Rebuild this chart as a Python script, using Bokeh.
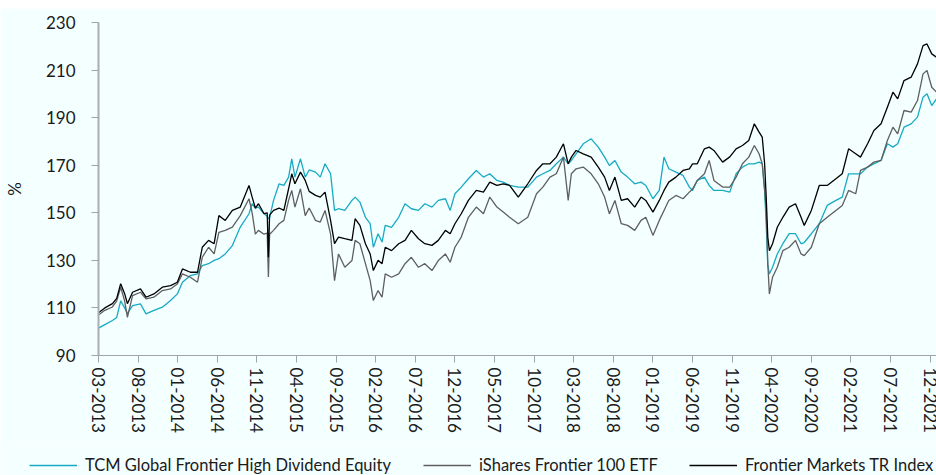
from bokeh.plotting import figure
from bokeh.layouts import column, row
from bokeh.models import Legend, LegendItem, FixedTicker, Range1d, Spacer
from bokeh.embed import file_html
from bokeh.resources import INLINE

# x tick labels (every 5 months starting 03-2013)
tick_labels = ["03-2013", "08-2013", "01-2014", "06-2014", "11-2014", "04-2015",
               "09-2015", "02-2016", "07-2016", "12-2016", "05-2017", "10-2017",
               "03-2018", "08-2018", "01-2019", "06-2019", "11-2019", "04-2020",
               "09-2020", "02-2021", "07-2021", "12-2021"]

# months elapsed since March 2013
months = [0.0, 0.8, 1.76, 2.3, 2.8, 3.3, 3.65, 4.3, 5.3, 6.0, 7.0, 8.06, 9.1, 9.95,
          10.6, 11.6, 12.5, 13.1, 13.9, 14.6, 15.2, 16.0, 16.9, 17.9, 19.0, 19.4,
          19.8, 20.2, 20.9, 21.3, 21.45, 21.6, 22.1, 22.8, 23.4, 24.0, 24.4, 24.8,
          25.5, 26.1, 26.6, 27.4, 28.0, 28.6, 29.3, 29.8, 30.3, 31.1, 32.0, 32.4,
          33.0, 33.7, 34.3, 34.7, 35.3, 35.8, 36.2, 37.0, 37.9, 38.7, 39.5, 40.4,
          41.2, 42.1, 42.9, 43.8, 44.4, 45.0, 45.8, 46.7, 47.7, 48.6, 49.4, 50.3,
          51.1, 51.9, 53.0, 54.2, 55.3, 56.1, 57.0, 57.8, 58.7, 59.3, 59.7, 60.3,
          61.2, 62.2, 63.1, 63.9, 64.5, 65.2, 66.0, 66.8, 67.7, 68.5, 69.1, 70.0,
          70.8, 71.4, 72.0, 72.9, 73.8, 74.6, 75.0, 75.6, 76.5, 77.1, 77.7, 78.8,
          79.7, 80.5, 81.3, 82.1, 82.8, 83.4, 83.8, 84.1, 84.3, 84.5, 84.7, 85.1,
          85.7, 86.4, 87.2, 88.0, 88.7, 89.1, 90.0, 91.0, 92.0, 93.1, 93.9, 94.7,
          95.6, 96.2, 97.1, 97.9, 98.8, 99.6, 100.3, 100.9, 101.7, 102.6, 103.4,
          104.1, 104.6, 105.2, 105.8]

tcm = [101.5, 103.0, 104.7, 106.0, 113.0, 110.0, 107.7, 111.0, 111.7, 107.5, 109.0,
       110.3, 113.1, 115.9, 120.8, 123.6, 124.3, 127.8, 128.6, 130.0, 130.7, 132.7,
       136.2, 144.0, 149.6, 153.8, 152.0, 152.4, 149.6, 148.5, 147.5, 148.0, 155.2,
       162.2, 161.5, 165.0, 172.7, 165.0, 172.7, 165.0, 168.0, 167.1, 165.0, 170.6,
       166.4, 151.0, 151.7, 151.0, 155.2, 156.6, 154.5, 148.1, 145.4, 135.5, 141.2,
       137.7, 144.7, 143.9, 148.1, 153.8, 151.7, 151.0, 153.8, 152.4, 155.2, 155.9,
       151.0, 158.0, 160.8, 164.3, 167.8, 165.0, 166.4, 163.6, 162.9, 161.5, 160.8,
       160.8, 165.0, 166.4, 167.8, 170.6, 173.4, 170.6, 172.0, 174.8, 179.0, 181.1,
       177.6, 173.4, 169.9, 172.0, 167.1, 165.0, 162.2, 162.9, 161.5, 155.9, 159.4,
       173.4, 168.5, 167.1, 165.7, 160.8, 159.4, 163.6, 165.0, 161.5, 159.4, 159.4,
       158.7, 166.4, 169.2, 170.6, 170.6, 171.3, 170.6, 159.4, 145.0, 128.0, 124.3,
       127.1, 132.7, 137.0, 141.2, 141.2, 137.0, 137.5, 141.2, 145.4, 153.1, 155.2,
       156.6, 166.4, 166.4, 166.4, 169.2, 170.6, 172.0, 179.0, 177.6, 179.0, 186.0,
       187.4, 190.2, 198.6, 200.0, 195.1, 197.9]

ishares = [107.0, 109.0, 110.4, 113.0, 118.7, 113.0, 106.0, 115.2, 116.6, 113.8,
           114.5, 117.3, 118.0, 120.1, 124.3, 122.9, 120.8, 131.3, 135.5, 132.7,
           141.8, 142.6, 144.0, 148.8, 155.9, 150.0, 141.0, 142.6, 141.0, 141.5,
           123.0, 141.0, 142.6, 145.4, 146.8, 155.2, 159.4, 152.4, 160.1, 148.8,
           152.0, 146.8, 146.1, 151.0, 141.0, 121.5, 132.7, 127.1, 129.9, 138.4,
           137.0, 128.6, 121.5, 113.1, 117.3, 114.5, 124.3, 122.9, 124.3, 128.6,
           131.3, 127.1, 128.6, 125.7, 129.9, 132.7, 129.2, 135.5, 139.8, 148.1,
           152.4, 149.6, 156.6, 152.4, 150.3, 148.1, 145.4, 148.1, 158.0, 160.8,
           165.0, 166.4, 173.4, 155.2, 166.4, 168.5, 169.2, 166.4, 162.2, 156.6,
           149.6, 155.2, 145.4, 144.7, 142.6, 146.8, 148.1, 140.5, 146.8, 151.0,
           155.2, 157.3, 155.9, 158.7, 160.0, 163.6, 166.4, 172.0, 163.6, 160.8,
           160.8, 165.0, 170.6, 173.4, 178.3, 174.8, 170.6, 159.4, 151.0, 128.6,
           115.9, 122.9, 127.1, 134.1, 135.5, 138.4, 132.7, 132.0, 135.5, 145.4,
           148.1, 151.0, 153.1, 159.4, 158.0, 167.8, 169.2, 171.3, 172.0, 180.4,
           186.0, 183.2, 193.0, 192.3, 197.2, 208.4, 209.8, 202.8, 200.7]

index_tr = [108.0, 110.0, 111.8, 114.0, 120.2, 116.0, 111.8, 116.6, 118.0, 114.5,
            115.9, 118.7, 119.4, 120.8, 126.4, 125.0, 125.0, 135.5, 138.4, 137.0,
            148.8, 146.8, 151.0, 152.4, 161.5, 156.6, 152.0, 153.8, 149.6, 150.0,
            131.3, 149.0, 151.0, 152.0, 151.0, 160.1, 166.4, 162.2, 167.1, 163.6,
            159.0, 157.3, 156.6, 158.7, 146.8, 137.0, 139.8, 139.1, 138.4, 147.5,
            144.7, 137.0, 132.7, 125.7, 130.0, 128.6, 135.5, 134.1, 137.0, 138.4,
            142.6, 139.1, 137.0, 136.3, 138.4, 142.6, 141.2, 145.4, 149.6, 155.2,
            159.4, 158.7, 162.9, 161.5, 162.2, 161.5, 156.6, 162.2, 167.8, 170.6,
            170.6, 173.4, 179.0, 170.6, 173.4, 176.2, 174.8, 173.4, 169.2, 165.0,
            159.4, 165.0, 155.2, 155.9, 152.4, 156.6, 155.2, 150.3, 155.2, 159.4,
            162.9, 165.0, 167.8, 168.5, 170.6, 170.6, 176.9, 177.6, 176.2, 171.3,
            173.5, 176.9, 178.3, 180.4, 187.4, 183.9, 181.8, 170.6, 156.6, 139.8,
            134.1, 137.0, 143.9, 148.1, 152.4, 153.8, 148.1, 144.7, 151.0, 161.5,
            161.5, 164.3, 166.4, 176.9, 174.8, 173.4, 179.0, 184.6, 187.4, 194.4,
            200.7, 197.9, 205.6, 207.0, 212.6, 220.3, 221.0, 216.8, 215.4]

series_names = ["TCM Global Frontier High Dividend Equity",
                "iShares Frontier 100 ETF",
                "Frontier Markets TR Index"]
series_colors = ["#17AAC4", "#5F5F5F", "#000000"]
all_series = [tcm, ishares, index_tr]

FONT = "Lato"
BG = "#F4FFFF"
TXT = "#1A1A1A"

p = figure(width=936, height=437, output_backend="svg", toolbar_location=None,
           x_range=Range1d(0, 105.8), y_range=Range1d(90, 230),
           min_border_left=96, min_border_right=0, min_border_top=14,
           min_border_bottom=90)

p.background_fill_color = BG
p.border_fill_color = BG
p.outline_line_color = None
p.xgrid.visible = False
p.ygrid.visible = False

for ys, c in zip(all_series, series_colors):
    p.line(months, ys, line_color=c, line_width=1.3)

# x axis
p.xaxis.ticker = FixedTicker(ticks=[5 * i for i in range(len(tick_labels))])
p.xaxis.major_label_overrides = {5 * i: lab for i, lab in enumerate(tick_labels)}
p.xaxis.major_label_orientation = "vertical"
p.xaxis.minor_tick_line_color = None
p.xaxis.major_tick_in = 0
p.xaxis.major_tick_out = 7
p.xaxis.axis_line_color = "#A0A4A8"
p.xaxis.major_tick_line_color = "#A0A4A8"
p.xaxis.major_label_text_font = FONT
p.xaxis.major_label_text_font_size = "17px"
p.xaxis.major_label_text_color = TXT
p.xaxis.major_label_standoff = 5

# y axis
p.yaxis.ticker = FixedTicker(ticks=[90, 110, 130, 150, 170, 190, 210, 230])
p.yaxis.minor_tick_line_color = None
p.yaxis.major_tick_in = 0
p.yaxis.major_tick_out = 7
p.yaxis.axis_line_color = "#A9AEB3"
p.yaxis.axis_line_width = 2
p.yaxis.major_tick_line_color = "#A0A4A8"
p.yaxis.major_label_text_font = FONT
p.yaxis.major_label_text_font_size = "17px"
p.yaxis.major_label_text_color = TXT
p.yaxis.major_label_standoff = 16
p.yaxis.axis_label = "%"
p.yaxis.axis_label_text_font = FONT
p.yaxis.axis_label_text_font_size = "17px"
p.yaxis.axis_label_text_font_style = "normal"
p.yaxis.axis_label_text_color = TXT
p.yaxis.axis_label_standoff = 18

# legend strip below the chart
lf = figure(width=936, height=30, output_backend="svg", toolbar_location=None,
            x_range=Range1d(1000, 1001), y_range=Range1d(0, 1),
            x_axis_location=None, y_axis_location=None,
            min_border_left=0, min_border_right=0, min_border_top=0,
            min_border_bottom=0)
lf.background_fill_color = BG
lf.border_fill_color = BG
lf.outline_line_color = None
lf.xgrid.visible = False
lf.ygrid.visible = False
legend_renderers = [lf.line(months, ys, line_color=c, line_width=1.3)
                    for ys, c in zip(all_series, series_colors)]
legend_x = [29, 423, 689]
for n, r, lx in zip(series_names, legend_renderers, legend_x):
    lg = Legend(items=[LegendItem(label=n, renderers=[r])], location=(lx, 0),
                glyph_width=48, glyph_height=20, label_height=20, label_standoff=8,
                padding=0, margin=0,
                label_text_font=FONT, label_text_font_size="16.5px",
                label_text_color=TXT, background_fill_alpha=0,
                border_line_color=None)
    lf.add_layout(lg, "center")

layout = column(Spacer(width=936, height=8), p, row(lf))
open("out.html", "w").write(file_html(layout, INLINE))
